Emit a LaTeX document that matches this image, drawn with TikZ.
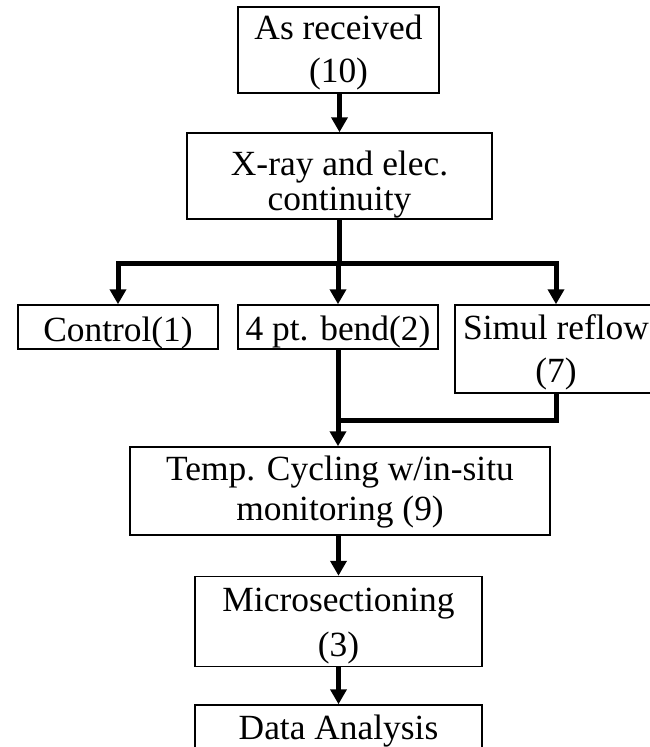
\documentclass[tikz,border=0pt]{standalone}
\usepackage{fontspec}
\setmainfont{Liberation Serif}
\usetikzlibrary{arrows.meta}

% stage label: #1 = how far the lines sit below centre (pt),
% #2 = line spacing (pt), #3 = the lines
\newcommand{\stagetext}[3]{%
  {\fontsize{35.4}{#2}\selectfont
   \raisebox{-#1pt}[\height][\depth]{\begin{tabular}{@{}c@{}}#3\end{tabular}}}}

\tikzset{
  stage/.style={draw=black, line width=1.5pt, inner sep=0pt},
  link/.style={line width=5pt, draw=black},
  flow/.style={link, -{Triangle[width=16pt,length=15pt]}},
}

\begin{document}
\begin{tikzpicture}[x=1pt, y=-1pt]
  \useasboundingbox (0,0) rectangle (650,747);
  \clip (0,0) rectangle (650,747);

  % process stages
  \node[stage, minimum width=201pt, minimum height=86pt] (recv) at (338.5,50)
    {\stagetext{2.5}{43}{As received\\(10)}};
  \node[stage, minimum width=305pt, minimum height=86pt] (xray) at (339.5,176)
    {\stagetext{10}{35}{X-ray and elec.\\continuity}};
  \node[stage, minimum width=200pt, minimum height=44pt] (ctrl) at (118,327)
    {\stagetext{6.5}{41}{Control(1)}};
  \node[stage, minimum width=200pt, minimum height=44pt] (bend) at (338,327)
    {\stagetext{5}{41}{4 pt. bend(2)}};
  \node[stage, minimum width=202pt, minimum height=88pt] (reflow) at (556,349)
    {\stagetext{3.5}{43}{Simul reflow\\(7)}};
  \node[stage, minimum width=420pt, minimum height=88pt] (cycle) at (340,491)
    {\stagetext{1.5}{40}{Temp. Cycling w/in-situ\\monitoring (9)}};
  \node[stage, minimum width=287pt, minimum height=87pt] (micro) at (338.5,621.5)
    {\stagetext{3}{45}{Microsectioning\\(3)}};
  \node[stage, minimum width=287pt, minimum height=44pt] (data) at (338.5,727)
    {\stagetext{3.8}{41}{Data Analysis}};

  % junctions
  \coordinate (split) at (339.5,263);
  \coordinate (merge) at (338,420);

  % connectors
  \draw[flow] (recv.south -| xray.north) -- (xray.north);
  \draw[link] (xray.south) -- (split);
  \draw[flow] (split) -| (ctrl.north);
  \draw[flow] (split) -| (reflow.north);
  \draw[flow] (split) -- (split -| bend.north) -- (bend.north);
  \draw[link] (reflow.south) |- (merge);
  \draw[flow] (bend.south) -- (bend.south |- cycle.north);
  \draw[flow] (cycle.south -| micro.north) -- (micro.north);
  \draw[flow] (micro.south) -- (data.north);
\end{tikzpicture}
\end{document}
